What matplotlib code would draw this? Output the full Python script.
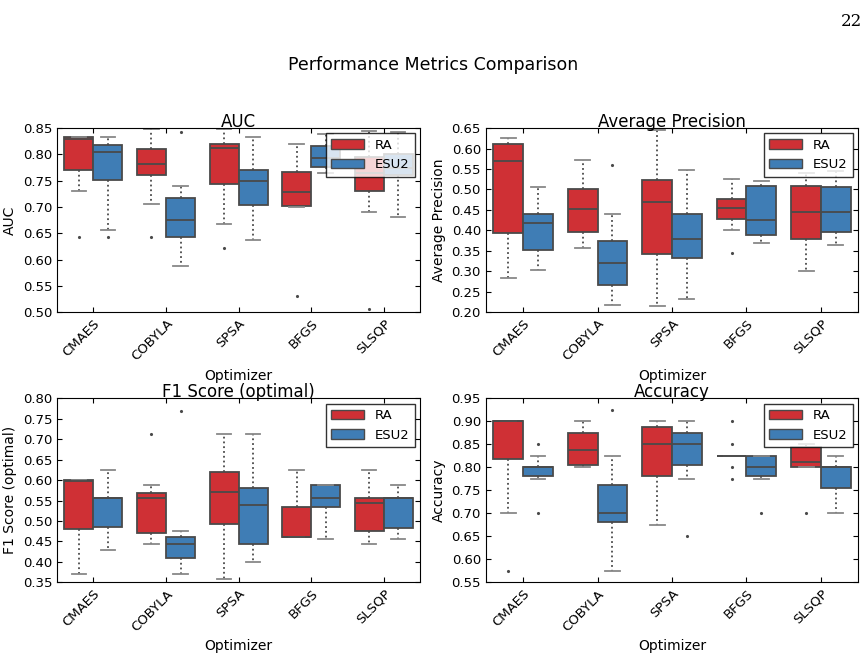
import matplotlib
matplotlib.use("Agg")
import matplotlib.pyplot as plt
from matplotlib.patches import Patch
import numpy as np

optimizers = ["CMAES", "COBYLA", "SPSA", "BFGS", "SLSQP"]
methods = ["RA", "ESU2"]

# per optimizer: (whislo, q1, med, q3, whishi, fliers)
auc_ra = [(0.730, 0.771, 0.829, 0.833, 0.834, [0.642]),
          (0.706, 0.760, 0.782, 0.810, 0.848, [0.642]),
          (0.667, 0.743, 0.812, 0.820, 0.848, [0.622]),
          (0.700, 0.702, 0.728, 0.766, 0.819, [0.530]),
          (0.691, 0.731, 0.765, 0.795, 0.845, [0.505])]
auc_esu2 = [(0.657, 0.752, 0.804, 0.818, 0.834, [0.642]),
            (0.588, 0.643, 0.676, 0.717, 0.740, [0.843]),
            (0.637, 0.703, 0.750, 0.770, 0.834, []),
            (0.765, 0.776, 0.794, 0.816, 0.838, []),
            (0.681, 0.760, 0.775, 0.800, 0.843, [])]

ap_ra = [(0.284, 0.393, 0.570, 0.612, 0.626, []),
         (0.356, 0.396, 0.452, 0.502, 0.572, []),
         (0.216, 0.341, 0.470, 0.524, 0.645, []),
         (0.401, 0.427, 0.455, 0.476, 0.526, [0.344]),
         (0.300, 0.379, 0.445, 0.508, 0.540, [])]
ap_esu2 = [(0.304, 0.351, 0.419, 0.440, 0.506, []),
           (0.218, 0.266, 0.321, 0.375, 0.440, [0.560]),
           (0.231, 0.333, 0.380, 0.440, 0.547, []),
           (0.370, 0.388, 0.425, 0.508, 0.521, []),
           (0.364, 0.396, 0.445, 0.506, 0.545, [])]

f1_ra = [(0.370, 0.480, 0.598, 0.600, 0.600, []),
         (0.444, 0.471, 0.556, 0.568, 0.588, [0.714]),
         (0.357, 0.492, 0.571, 0.619, 0.714, []),
         (0.462, 0.462, 0.462, 0.535, 0.625, []),
         (0.444, 0.475, 0.545, 0.556, 0.625, [])]
f1_esu2 = [(0.429, 0.485, 0.556, 0.556, 0.625, []),
           (0.370, 0.409, 0.444, 0.461, 0.476, [0.769]),
           (0.400, 0.444, 0.540, 0.580, 0.714, []),
           (0.455, 0.535, 0.556, 0.588, 0.588, []),
           (0.455, 0.483, 0.556, 0.556, 0.588, [])]

acc_ra = [(0.700, 0.819, 0.900, 0.900, 0.900, [0.575]),
          (0.800, 0.806, 0.837, 0.875, 0.900, []),
          (0.675, 0.781, 0.850, 0.887, 0.900, []),
          (0.825, 0.825, 0.825, 0.825, 0.825, [0.900, 0.850, 0.800, 0.775]),
          (0.800, 0.800, 0.8125, 0.844, 0.850, [0.700])]
acc_esu2 = [(0.775, 0.781, 0.800, 0.800, 0.825, [0.850, 0.700]),
            (0.575, 0.681, 0.700, 0.762, 0.825, [0.925]),
            (0.775, 0.806, 0.850, 0.875, 0.900, [0.650]),
            (0.775, 0.781, 0.800, 0.825, 0.825, [0.700]),
            (0.700, 0.756, 0.800, 0.800, 0.825, [])]

panels = [
    ("AUC", "AUC", auc_ra, auc_esu2, (0.50, 0.85)),
    ("Average Precision", "Average Precision", ap_ra, ap_esu2, (0.20, 0.65)),
    ("F1 Score (optimal)", "F1 Score (optimal)", f1_ra, f1_esu2, (0.35, 0.80)),
    ("Accuracy", "Accuracy", acc_ra, acc_esu2, (0.55, 0.95)),
]

colors = ["#cf3035", "#3f7db5"]
edge = "#4a4a4a"


def to_stats(rows):
    keys = ["whislo", "q1", "med", "q3", "whishi"]
    out = []
    for r in rows:
        d = dict(zip(keys, r[:5]))
        d["fliers"] = r[5]
        out.append(d)
    return out


fig = plt.figure(figsize=(8.66, 6.64), dpi=100)
rects = [(0.066, 0.530, 0.419, 0.277), (0.561, 0.530, 0.430, 0.277),
         (0.066, 0.123, 0.419, 0.277), (0.561, 0.123, 0.430, 0.277)]
x = np.arange(len(optimizers))
for rect, (title, ylabel, ra, esu2, ylim) in zip(rects, panels):
    ax = fig.add_axes(rect)
    for k, (rows, color) in enumerate(zip([ra, esu2], colors)):
        pos = x + (k - 0.5) * 0.4
        ax.bxp(to_stats(rows), positions=pos, widths=0.4, patch_artist=True,
               boxprops=dict(facecolor=color, edgecolor=edge, linewidth=1.3),
               medianprops=dict(color=edge, linewidth=1.3),
               whiskerprops=dict(color=edge, linestyle=":", linewidth=1.3),
               capprops=dict(color="#888888", linewidth=1.3),
               flierprops=dict(marker=".", markersize=2.5, markerfacecolor=edge, markeredgecolor=edge),
               capwidths=0.2)
    ax.set_xlim(-0.5, len(optimizers) - 0.5)
    ax.set_ylim(*ylim)
    ax.set_yticks(np.arange(ylim[0], ylim[1] + 0.001, 0.05))
    ax.yaxis.set_major_formatter(matplotlib.ticker.FormatStrFormatter("%.2f"))
    ax.set_xticks(x)
    ax.set_xticklabels(optimizers, rotation=45, ha="right", rotation_mode="anchor")
    ax.tick_params(direction="in", labelsize=9.5, top=True, right=True)
    ax.set_title(title, fontsize=12, pad=1)
    ax.set_ylabel(ylabel, fontsize=10)
    ax.set_xlabel("Optimizer", fontsize=10)
    handles = [Patch(facecolor=c, edgecolor=edge, label=m) for c, m in zip(colors, methods)]
    leg = ax.legend(handles=handles, loc="upper right", fontsize=9.5, fancybox=False,
                    handlelength=2.5, borderaxespad=0.4)
    leg.get_frame().set_edgecolor("black")

fig.suptitle("Performance Metrics Comparison", fontsize=12.5, y=0.915)
fig.text(0.995, 0.98, "22", ha="right", va="top", fontsize=12, family="DejaVu Serif")
fig.savefig("out.png", dpi=100)
